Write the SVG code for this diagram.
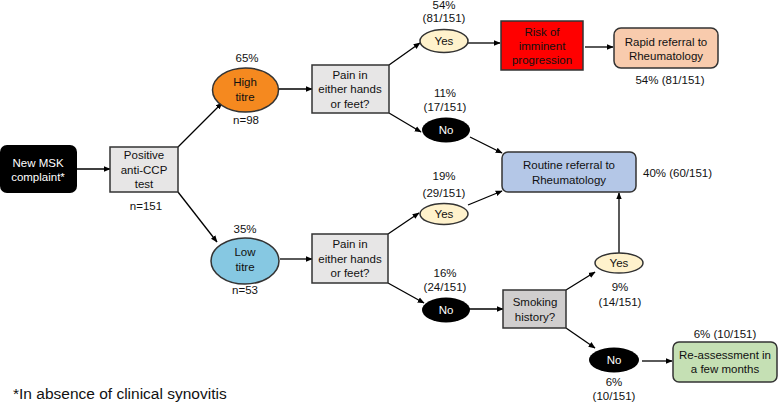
<svg xmlns="http://www.w3.org/2000/svg" width="780" height="404" viewBox="0 0 780 404">
<defs>
<marker id="ah" viewBox="0 0 10 10" refX="9" refY="5" markerWidth="7" markerHeight="7" markerUnits="userSpaceOnUse" orient="auto">
<path d="M0,1 L10,5 L0,9 Z" fill="#000"/>
</marker>
<style>
text{font-family:"Liberation Sans",Arial,sans-serif;font-size:11.5px;fill:#111;text-anchor:middle}
.w{fill:#fff}
.st{stroke:#333;stroke-width:1.5}
.gray{fill:#e7e6e6}
.dgray{fill:#d0cece}
.yes{fill:#fff2cc}
.blk{fill:#000}
.edge{stroke:#000;stroke-width:1.3;fill:none;marker-end:url(#ah)}
.lbl{text-anchor:start}
.foot{font-size:15.5px;text-anchor:start}
</style>
</defs>

<g id="connectors">
<line class="edge" x1="77" y1="169" x2="110" y2="169"/>
<line class="edge" x1="178" y1="147" x2="222" y2="103"/>
<line class="edge" x1="178" y1="192" x2="217" y2="242"/>
<line class="edge" x1="279" y1="89" x2="312" y2="89"/>
<line class="edge" x1="280" y1="259" x2="312" y2="259"/>
<line class="edge" x1="389" y1="65" x2="420" y2="43"/>
<line class="edge" x1="389" y1="113" x2="421" y2="132"/>
<line class="edge" x1="468" y1="43" x2="500" y2="43"/>
<line class="edge" x1="585" y1="47" x2="613" y2="47"/>
<line class="edge" x1="470" y1="137" x2="502" y2="153"/>
<line class="edge" x1="388" y1="234" x2="419" y2="213"/>
<line class="edge" x1="468" y1="205" x2="502" y2="191"/>
<line class="edge" x1="388" y1="283" x2="424" y2="303"/>
<line class="edge" x1="469" y1="309" x2="503" y2="309"/>
<line class="edge" x1="566" y1="290" x2="595" y2="272"/>
<line class="edge" x1="566" y1="328" x2="595" y2="348"/>
<line class="edge" x1="619" y1="253" x2="619" y2="193"/>
<line class="edge" x1="642" y1="361" x2="672" y2="361"/>
</g>

<g id="new-msk">
<rect x="0" y="145" width="77" height="48" rx="7" fill="#000"/>
<text class="w" x="38" y="167">New MSK</text>
<text class="w" x="38" y="181">complaint*</text>
</g>

<g id="positive">
<rect class="gray st" x="110" y="147" width="68" height="45"/>
<text x="144" y="159">Positive</text>
<text x="144" y="174">anti-CCP</text>
<text x="144" y="188">test</text>
<text x="146" y="210">n=151</text>
</g>

<g id="high-titre">
<ellipse class="st" cx="245.5" cy="90" rx="33" ry="22" fill="#f5891f"/>
<text x="245" y="86">High</text>
<text x="245" y="101">titre</text>
<text x="247" y="62">65%</text>
<text x="246" y="124">n=98</text>
</g>

<g id="low-titre">
<ellipse class="st" cx="245" cy="261" rx="34" ry="23" fill="#86c8e2"/>
<text x="245" y="256">Low</text>
<text x="245" y="271">titre</text>
<text x="245" y="233">35%</text>
<text x="245" y="294">n=53</text>
</g>

<g id="pain-high">
<rect class="gray st" x="312" y="65" width="77" height="48"/>
<text x="350" y="79">Pain in</text>
<text x="350" y="93">either hands</text>
<text x="350" y="108">or feet?</text>
</g>

<g id="pain-low">
<rect class="gray st" x="312" y="234" width="76" height="49"/>
<text x="350" y="248">Pain in</text>
<text x="350" y="263">either hands</text>
<text x="350" y="277">or feet?</text>
</g>

<g id="yes-high">
<ellipse class="yes st" cx="444" cy="41" rx="24" ry="11.5"/>
<text x="444" y="45">Yes</text>
<text x="444" y="9">54%</text>
<text x="444" y="22">(81/151)</text>
</g>

<g id="no-high">
<ellipse class="blk" cx="446" cy="130" rx="24" ry="12.5"/>
<text class="w" x="446" y="134">No</text>
<text x="445" y="97">11%</text>
<text x="445" y="111">(17/151)</text>
</g>

<g id="risk">
<rect class="st" x="501" y="21" width="82" height="49" fill="#ff0000"/>
<text x="542" y="36">Risk of</text>
<text x="542" y="50">imminent</text>
<text x="542" y="64">progression</text>
</g>

<g id="rapid">
<rect class="st" x="614" y="28" width="104" height="40" rx="7" fill="#f8cbad"/>
<text x="666" y="46">Rapid referral to</text>
<text x="666" y="60">Rheumatology</text>
<text x="670" y="84">54% (81/151)</text>
</g>

<g id="routine">
<rect class="st" x="502" y="152" width="134" height="40" rx="6" fill="#b4c7e7"/>
<text x="569" y="169">Routine referral to</text>
<text x="569" y="184">Rheumatology</text>
<text class="lbl" x="643" y="177">40% (60/151)</text>
</g>

<g id="yes-low">
<ellipse class="yes st" cx="444" cy="214" rx="24" ry="10.5"/>
<text x="444" y="218">Yes</text>
<text x="444" y="180">19%</text>
<text x="444" y="197">(29/151)</text>
</g>

<g id="no-low">
<ellipse class="blk" cx="446" cy="310" rx="24" ry="12.5"/>
<text class="w" x="446" y="314">No</text>
<text x="445" y="277">16%</text>
<text x="445" y="291">(24/151)</text>
</g>

<g id="smoking">
<rect class="dgray st" x="503" y="290" width="63" height="38"/>
<text x="535" y="306">Smoking</text>
<text x="535" y="321">history?</text>
</g>

<g id="yes-smoke">
<ellipse class="yes st" cx="619" cy="263" rx="24" ry="10"/>
<text x="619" y="267">Yes</text>
<text x="620" y="291">9%</text>
<text x="620" y="306">(14/151)</text>
</g>

<g id="no-smoke">
<ellipse class="blk" cx="614" cy="360" rx="25" ry="12.5"/>
<text class="w" x="614" y="364">No</text>
<text x="614" y="386">6%</text>
<text x="614" y="400">(10/151)</text>
</g>

<g id="reassess">
<rect class="st" x="673" y="342" width="104" height="40" rx="6" fill="#c5e0b4"/>
<text x="725" y="359">Re-assessment in</text>
<text x="725" y="373">a few months</text>
<text x="725" y="338">6% (10/151)</text>
</g>

<text class="foot" x="13" y="399">*In absence of clinical synovitis</text>
</svg>
